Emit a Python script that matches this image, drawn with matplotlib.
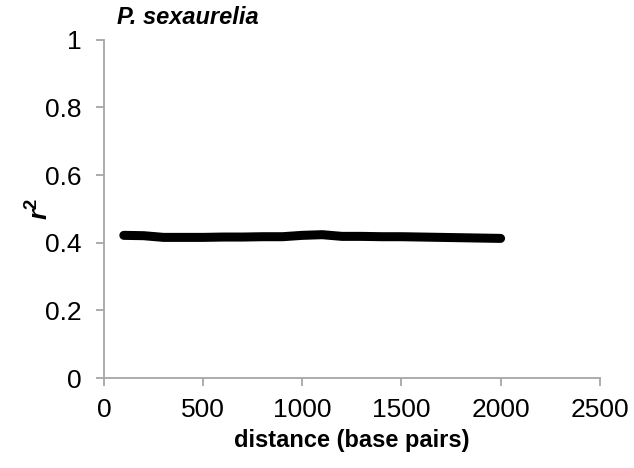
import matplotlib
matplotlib.use("Agg")
import matplotlib.pyplot as plt

distance = [100, 200, 300, 400, 500, 600, 700, 800, 900, 1000,
            1100, 1200, 1300, 1400, 1500, 1600, 1700, 1800, 1900, 2000]
r2 = [0.422, 0.421, 0.416, 0.416, 0.416, 0.417, 0.417, 0.418, 0.418, 0.422,
      0.424, 0.419, 0.419, 0.418, 0.418, 0.417, 0.416, 0.415, 0.414, 0.413]
xticks = [0, 500, 1000, 1500, 2000, 2500]
yticks = [0, 0.2, 0.4, 0.6, 0.8, 1.0]
ytick_labels = ["0", "0.2", "0.4", "0.6", "0.8", "1"]

plt.rcParams['font.family'] = ['Liberation Sans', 'DejaVu Sans']
plt.rcParams['mathtext.fontset'] = 'custom'
plt.rcParams['mathtext.rm'] = 'Liberation Sans'
plt.rcParams['mathtext.it'] = 'Liberation Sans:italic'
plt.rcParams['mathtext.bf'] = 'Liberation Sans:bold'
plt.rcParams['mathtext.bfit'] = 'Liberation Sans:bold:italic'

fig = plt.figure(figsize=(6.34, 4.68), dpi=100)
ax = fig.add_axes([0.164, 0.192, 0.782, 0.723])
ax.plot(distance, r2, color='black', linewidth=6.5, solid_capstyle='round',
        solid_joinstyle='round')
ax.set_xlim(0, 2500)
ax.set_ylim(0, 1)
ax.set_xticks(xticks)
ax.set_xticklabels([str(t) for t in xticks])
ax.set_yticks(yticks)
ax.set_yticklabels(ytick_labels)
for s in ['top', 'right']:
    ax.spines[s].set_visible(False)
for s in ['left', 'bottom']:
    ax.spines[s].set_color('#a6a6a6')
    ax.spines[s].set_linewidth(1.3)
ax.tick_params(axis='both', colors='#a6a6a6', length=6, width=1.3,
               labelsize=19, labelcolor='black')
ax.tick_params(axis='x', pad=8)
ax.tick_params(axis='y', pad=10)
ax.set_xlabel('distance (base pairs)', fontsize=17, fontweight='bold', labelpad=5)
ax.set_ylabel(r'$\mathbfit{r}^{\mathbf{2}}$', fontsize=19, labelpad=-6)
fig.text(0.185, 0.962, 'P. sexaurelia', fontsize=17, fontweight='bold',
         fontstyle='italic', ha='left', va='center')
fig.savefig('out.png', dpi=100)
